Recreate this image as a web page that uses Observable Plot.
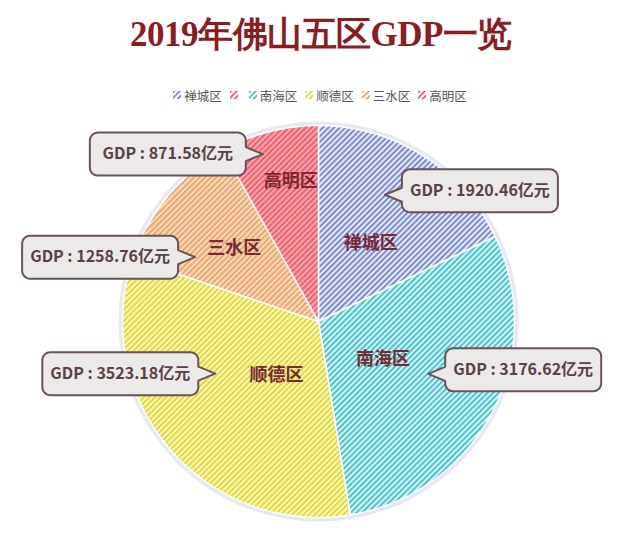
<!DOCTYPE html>
<html><head><meta charset="utf-8">
<script src="https://cdn.jsdelivr.net/npm/d3@7"></script>
<script src="https://cdn.jsdelivr.net/npm/@observablehq/plot@0.6"></script>
<style>
body{margin:0;background:#fff;width:640px;height:537px;overflow:hidden;font-family:"Noto Sans CJK SC","Noto Sans",sans-serif;}
#title{height:70px;line-height:70px;text-align:center;font-family:"Liberation Serif","DejaVu Serif",serif;font-weight:bold;font-size:35px;color:#8b1c1f;letter-spacing:-0.5px;padding-left:2px;}
#legend{height:50px;display:flex;justify-content:center;align-items:center;font-size:12.5px;color:#555;}
#legend .item{display:flex;align-items:center;margin:0 4px;}
#legend svg{margin-right:3px;}
#chart{height:417px;}
</style></head><body>
<div id="title">2019年佛山五区GDP一览</div>
<div id="legend"></div>
<div id="chart"></div>
<script>
// ---- data ----
const districts = ["禅城区", "南海区", "顺德区", "三水区", "高明区"];
const gdp = [1920.46, 3176.62, 3523.18, 1258.76, 871.58];
const unit = "亿元";
// ---- styles ----
const stripeColors = ["#7282d2", "#42bec8", "#dcd53e", "#ec a06a".replace(" ", ""), "#ee5868"];
const gapColors = ["#e6eafb", "#d4f4f4", "#faf8b0", "#fbdcbc", "#f9a8ad"];
// ---- layout (label placement relative to slice mid-angle) ----
const labelR = [0.48, 0.38, 0.35, 0.57, 0.73];
const labelDA = [1.6, 2.5, -11.8, 1.3, 3.4];
const tipR = [0.73, 0.62, 0.59, 0.71, 0.90];
const tipDA = [-4.5, -2, 13.5, -12.2, -3.8];

const K = 196;               // pixels per unit radius
const W = 640, H = 417, cxPix = 318, cyPix = 201;
const deg = Math.PI / 180;

function patternSvg(id, stripe, gap) {
  return `<pattern id="${id}" width="4" height="4" patternUnits="userSpaceOnUse" patternTransform="rotate(45)">
    <rect width="4" height="4" fill="${gap}"/><rect width="1.8" height="4" fill="${stripe}"/></pattern>`;
}

// legend
const legend = document.getElementById("legend");
const legendItems = districts.map((d, i) => ({label: d, i}));
legendItems.splice(1, 0, {label: "", i: 4});
legendItems.forEach(({label, i}, k) => {
  const div = document.createElement("div");
  div.className = "item";
  div.innerHTML = `<svg width="8" height="8"><defs>${patternSvg("lg" + k, stripeColors[i], "#fff")}</defs><rect width="8" height="8" fill="url(#lg${k})"/></svg><span>${label}</span>`;
  legend.appendChild(div);
});

// pie geometry
const pie = d3.pie().sort(null).value(d => d)(gdp);
const polar = (a, r) => ({x: r * Math.sin(a), y: r * Math.cos(a)});
const slices = pie.map(p => {
  const pts = [{x: 0, y: 0}];
  const n = Math.max(4, Math.ceil((p.endAngle - p.startAngle) / deg * 2));
  for (let k = 0; k <= n; k++) pts.push(polar(p.startAngle + (p.endAngle - p.startAngle) * k / n, 1));
  return pts;
});
const mid = p => (p.startAngle + p.endAngle) / 2;
const labels = pie.map((p, i) => ({...polar(mid(p) + labelDA[i] * deg, labelR[i]), text: districts[i]}));

const boxW = 156, boxH = 43, ptrLen = 17, ptrHalf = 7, cornerR = 8;
const callouts = pie.map((p, i) => {
  const tip = polar(mid(p) + tipDA[i] * deg, tipR[i]);
  const side = tip.x >= 0 ? 1 : -1;
  const boxDy = side > 0 ? -4 : 0;
  const top = boxDy - boxH / 2, bot = boxDy + boxH / 2;
  const L = ptrLen, R = ptrLen + boxW, r = cornerR;
  const px = [[0, 0], [L, -ptrHalf]];
  const arc = (cx, cy, a0, a1) => {
    for (let k = 0; k <= 6; k++) {
      const t = (a0 + (a1 - a0) * k / 6) * deg;
      px.push([cx + r * Math.cos(t), cy + r * Math.sin(t)]);
    }
  };
  arc(L + r, top + r, 180, 270);
  arc(R - r, top + r, 270, 360);
  arc(R - r, bot - r, 0, 90);
  arc(L + r, bot - r, 90, 180);
  px.push([L, ptrHalf]);
  return {
    pts: px.map(([dx, dy]) => ({x: tip.x + side * dx / K, y: tip.y - dy / K})),
    x: tip.x + side * (L + boxW / 2) / K,
    y: tip.y - boxDy / K,
    text: `GDP : ${gdp[i].toFixed(2)}${unit}`
  };
});

const defs = () => {
  const g = d3.create("svg:defs");
  g.html(stripeColors.map((c, i) => patternSvg("hatch" + i, c, gapColors[i])).join(""));
  return g.node();
};

const chart = Plot.plot({
  width: W, height: H, margin: 0,
  style: {fontFamily: "'Noto Sans CJK SC', sans-serif", background: "transparent", overflow: "visible"},
  x: {domain: [-cxPix / K, (W - cxPix) / K], axis: null},
  y: {domain: [-(H - cyPix) / K, cyPix / K], axis: null},
  marks: [
    defs,
    Plot.dot([{x: 0, y: 0}], {x: "x", y: "y", r: K + 2, fill: "none", stroke: "#e6e8f2", strokeWidth: 4}),
    ...slices.map((pts, i) => Plot.line(pts, {x: "x", y: "y", curve: "linear-closed", fill: `url(#hatch${i})`, stroke: "#ffffff", strokeWidth: 1.5})),
    Plot.text(labels, {x: "x", y: "y", text: "text", fontSize: 18, fontWeight: "bold", fill: "#7a2832"}),
    ...callouts.map(c => Plot.line(c.pts, {x: "x", y: "y", curve: "linear-closed", fill: "#ece9e9", stroke: "#6b5257", strokeWidth: 2})),
    Plot.text(callouts, {x: "x", y: "y", text: "text", fontSize: 16, fontWeight: "bold", fill: "#5a4047"})
  ]
});
document.getElementById("chart").appendChild(chart);
</script>
</body></html>
